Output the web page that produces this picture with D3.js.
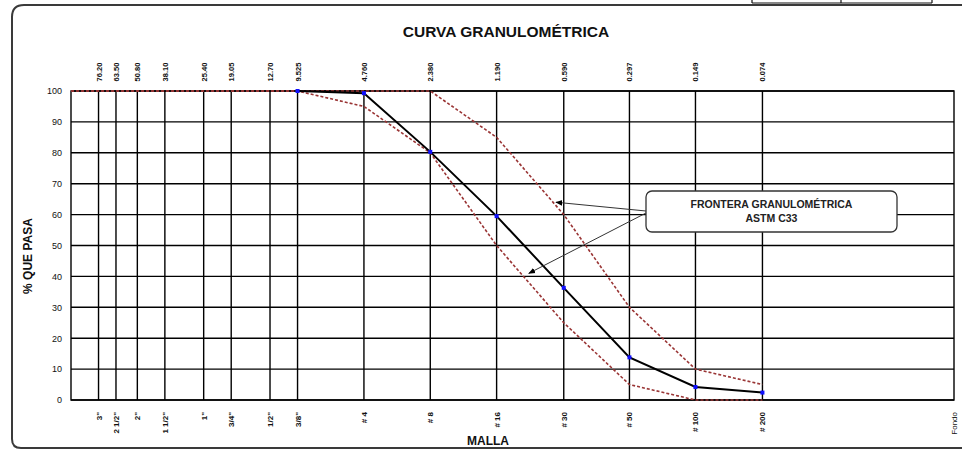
<!DOCTYPE html>
<html>
<head>
<meta charset="utf-8">
<script src="https://cdn.jsdelivr.net/npm/d3@7.9.0/dist/d3.min.js"></script>
<style>
  body { margin: 0; background: #fff; overflow: hidden; }
  svg { display: block; font-family: "Liberation Sans", Arial, sans-serif; }
</style>
</head>
<body>
<svg id="chart" width="964" height="450"></svg>
<script>
// sieve data (mm openings, % passing)
const sieveLabels = ['3"', '2 1/2"', '2"', '1 1/2"', '1"', '3/4"', '1/2"', '3/8"', '# 4', '# 8', '# 16', '# 30', '# 50', '# 100', '# 200'];
const openings = [76.20, 63.50, 50.80, 38.10, 25.40, 19.05, 12.70, 9.525, 4.760, 2.380, 1.190, 0.590, 0.297, 0.149, 0.074];
const openingLabels = ['76.20', '63.50', '50.80', '38.10', '25.40', '19.05', '12.70', '9.525', '4.760', '2.380', '1.190', '0.590', '0.297', '0.149', '0.074'];
const passing = [null, null, null, null, null, null, null, 100, 99.3, 80.3, 59.5, 36.3, 13.8, 4.2, 2.4];
const upperLimit = [100, 100, 100, 100, 100, 100, 100, 100, 100, 100, 85, 60, 30, 10, 5];
const lowerLimit = [100, 100, 100, 100, 100, 100, 100, 100, 95, 80, 50, 25, 5, 0, 0];
const yTicks = [0, 10, 20, 30, 40, 50, 60, 70, 80, 90, 100];
const xDomain = [101.6, 0.01]; // 4" down to pan ("Fondo")

const svg = d3.select('#chart');
const x = d3.scaleLog().domain(xDomain).range([71, 954]);
const y = d3.scaleLinear().domain([0, 100]).range([400, 91]);

// outer frame (only left/top/bottom are in view)
svg.append('path')
  .attr('d', 'M962,448 L21,448 Q12,448 12,439 L12,17 Q12,5 24,5 L962,5')
  .attr('fill', 'none').attr('stroke', '#3a3a3a').attr('stroke-width', 2);

// bit of the table above
const tbl = svg.append('g').attr('stroke', '#111').attr('stroke-width', 1.2);
tbl.append('line').attr('x1', 752).attr('x2', 932).attr('y1', 3).attr('y2', 3);
[752, 841, 932].forEach(px => {
  tbl.append('line').attr('x1', px).attr('x2', px).attr('y1', -1).attr('y2', 3);
});

// grid
const grid = svg.append('g').attr('stroke', '#000').attr('stroke-width', 1.4);
yTicks.forEach(t => {
  grid.append('line').attr('x1', x.range()[0]).attr('x2', x.range()[1])
    .attr('y1', y(t)).attr('y2', y(t));
});
openings.forEach(o => {
  grid.append('line').attr('x1', x(o)).attr('x2', x(o))
    .attr('y1', y(0)).attr('y2', y(100));
});
grid.append('rect')
  .attr('x', x.range()[0]).attr('y', y(100))
  .attr('width', x.range()[1] - x.range()[0]).attr('height', y(0) - y(100))
  .attr('fill', 'none');

// ASTM limits
const lineGen = d3.line()
  .defined(d => d.v != null)
  .x(d => x(d.o))
  .y(d => y(d.v));

[upperLimit, lowerLimit].forEach(lim => {
  const pts = [{ o: xDomain[0], v: lim[0] }].concat(openings.map((o, i) => ({ o, v: lim[i] })));
  svg.append('path')
    .attr('d', lineGen(pts))
    .attr('fill', 'none')
    .attr('stroke', '#9a3535')
    .attr('stroke-width', 1.6)
    .attr('stroke-dasharray', '3 2');
});

// sample curve
const curve = openings.map((o, i) => ({ o, v: passing[i] })).filter(d => d.v != null);
svg.append('path')
  .attr('d', lineGen(curve))
  .attr('fill', 'none')
  .attr('stroke', '#000')
  .attr('stroke-width', 2);

svg.selectAll('rect.pt')
  .data(curve)
  .join('rect')
  .attr('class', 'pt')
  .attr('x', d => x(d.o) - 2).attr('y', d => y(d.v) - 2)
  .attr('width', 4).attr('height', 4)
  .attr('fill', '#1010ff');

// y axis
const yAxis = svg.append('g')
  .attr('transform', `translate(${x.range()[0]},0)`)
  .call(d3.axisLeft(y).tickValues(yTicks).tickSize(0).tickPadding(9));
yAxis.select('.domain').remove();
yAxis.selectAll('text')
  .attr('font-family', '"Liberation Sans", Arial, sans-serif')
  .attr('font-size', 9)
  .attr('fill', '#111');

// top labels (mm)
svg.append('g').selectAll('text')
  .data(openings)
  .join('text')
  .attr('transform', d => `translate(${x(d) + 3},72) rotate(-90)`)
  .attr('text-anchor', 'middle')
  .attr('font-size', 7.5)
  .attr('font-weight', 'bold')
  .attr('fill', '#111')
  .text((d, i) => openingLabels[i]);

// bottom labels (sieve names)
svg.append('g').selectAll('text')
  .data(openings)
  .join('text')
  .attr('transform', d => `translate(${x(d) + 3},412) rotate(-90)`)
  .attr('text-anchor', 'end')
  .attr('font-size', 8)
  .attr('font-weight', 'bold')
  .attr('fill', '#111')
  .text((d, i) => sieveLabels[i]);

svg.append('text')
  .attr('transform', `translate(${x(xDomain[1]) + 3},412) rotate(-90)`)
  .attr('text-anchor', 'end')
  .attr('font-size', 8)
  .attr('fill', '#111')
  .text('Fondo');

// titles
svg.append('text')
  .attr('x', 506).attr('y', 37)
  .attr('text-anchor', 'middle')
  .attr('font-size', 15.5).attr('font-weight', 'bold')
  .attr('fill', '#111')
  .text('CURVA GRANULOMÉTRICA');

svg.append('text')
  .attr('x', 488).attr('y', 445)
  .attr('text-anchor', 'middle')
  .attr('font-size', 12).attr('font-weight', 'bold')
  .attr('fill', '#111')
  .text('MALLA');

svg.append('text')
  .attr('transform', 'translate(32,256) rotate(-90)')
  .attr('text-anchor', 'middle')
  .attr('font-size', 12).attr('font-weight', 'bold')
  .attr('fill', '#111')
  .text('% QUE PASA');

// annotation
const defs = svg.append('defs');
defs.append('marker')
  .attr('id', 'arrow')
  .attr('viewBox', '0 0 10 10')
  .attr('refX', 9).attr('refY', 5)
  .attr('markerWidth', 7).attr('markerHeight', 7)
  .attr('orient', 'auto')
  .append('path').attr('d', 'M0,1 L10,5 L0,9 Z').attr('fill', '#000');

const note = { x: 646, y: 191, w: 251, h: 41 };
const arrowTips = [{ o: 0.64, v: 64 }, { o: 0.85, v: 41 }];
arrowTips.forEach((t, i) => {
  svg.append('line')
    .attr('x1', note.x).attr('y1', note.y + 20 + i * 2)
    .attr('x2', x(t.o)).attr('y2', y(t.v))
    .attr('stroke', '#333').attr('stroke-width', 1)
    .attr('marker-end', 'url(#arrow)');
});

svg.append('rect')
  .attr('x', note.x).attr('y', note.y)
  .attr('width', note.w).attr('height', note.h)
  .attr('rx', 6)
  .attr('fill', '#fff').attr('stroke', '#333').attr('stroke-width', 1.3);

svg.append('text')
  .attr('x', note.x + note.w / 2).attr('y', note.y + 17)
  .attr('text-anchor', 'middle')
  .attr('font-size', 10.5).attr('font-weight', 'bold')
  .attr('fill', '#222')
  .text('FRONTERA GRANULOMÉTRICA');
svg.append('text')
  .attr('x', note.x + note.w / 2).attr('y', note.y + 31)
  .attr('text-anchor', 'middle')
  .attr('font-size', 10.5).attr('font-weight', 'bold')
  .attr('fill', '#222')
  .text('ASTM C33');
</script>
</body>
</html>
